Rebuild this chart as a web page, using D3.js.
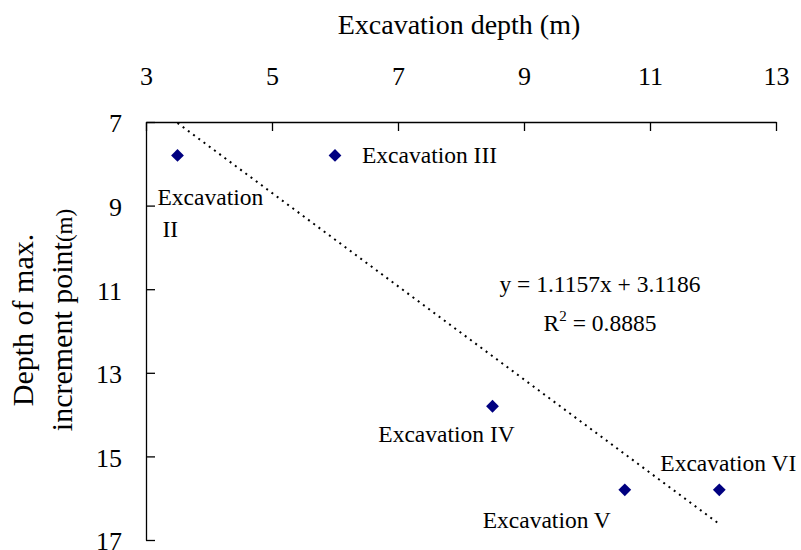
<!DOCTYPE html>
<html lang="en">
<head>
  <meta charset="UTF-8">
  <title>Excavation depth vs depth of max. increment point</title>
  <script src="https://d3js.org/d3.v7.min.js"></script>
  <style>
    body { margin: 0; background: white; }
    svg { display: block; font-family: "Liberation Serif", "Times New Roman", serif; }
    .axis path, .axis line { stroke: black; stroke-width: 1.3; }
    .axis text { font-size: 26px; fill: black; font-family: "Liberation Serif", serif; }
    .ptLabel { font-size: 23.5px; fill: black; }
    .trend { fill: none; stroke: black; stroke-width: 2; stroke-dasharray: 2,4.5; }
  </style>
</head>
<body>
<div id="chart"></div>
<script>
  // data
  const names = ["II", "III", "IV", "V", "VI"];
  const excavDepth = [3.5, 6.0, 8.5, 10.6, 12.1];
  const maxIncDepth = [7.8, 7.8, 13.8, 15.8, 15.8];
  const xTicks = [3, 5, 7, 9, 11, 13];
  const yTicks = [7, 9, 11, 13, 15, 17];

  // label placement (pixels, relative to the point)
  const labelLayout = {
    "II":  { lines: ["Excavation", "II"], dx: [-20, -15], dy: [50, 82], anchor: "start" },
    "III": { lines: ["Excavation III"], dx: [27], dy: [8], anchor: "start" },
    "IV":  { lines: ["Excavation IV"], dx: [-46], dy: [36], anchor: "middle" },
    "V":   { lines: ["Excavation V"], dx: [-78], dy: [38], anchor: "middle" },
    "VI":  { lines: ["Excavation VI"], dx: [9], dy: [-19], anchor: "middle" }
  };

  const width = 801, height = 550;
  const margin = { top: 122, left: 146, right: 25, bottom: 10 };

  const svg = d3.select("#chart").append("svg")
      .attr("width", width)
      .attr("height", height);

  const x = d3.scaleLinear().domain([3, 13]).range([margin.left, 776]);
  const y = d3.scaleLinear().domain([7, 17]).range([margin.top, 540]);

  // top x axis, ticks pointing inward
  svg.append("g")
      .attr("class", "axis")
      .attr("transform", `translate(0,${margin.top})`)
      .call(d3.axisTop(x).tickValues(xTicks).tickSize(-9).tickSizeOuter(0).tickPadding(37));

  // left y axis (depth grows downward)
  svg.append("g")
      .attr("class", "axis")
      .attr("transform", `translate(${margin.left},0)`)
      .call(d3.axisLeft(y).tickValues(yTicks).tickSize(-9).tickSizeOuter(0).tickPadding(24))
      .selectAll("text").attr("dy", "0.38em");

  // axis titles
  svg.append("text")
      .attr("x", 459).attr("y", 34)
      .attr("text-anchor", "middle")
      .style("font-size", "28px")
      .text("Excavation depth (m)");

  const yTitle = svg.append("g").attr("transform", "translate(0,320) rotate(-90)");
  yTitle.append("text")
      .attr("x", 0).attr("y", 33)
      .attr("text-anchor", "middle")
      .style("font-size", "30px")
      .text("Depth of max.");
  const t2 = yTitle.append("text")
      .attr("x", 0).attr("y", 72)
      .attr("text-anchor", "middle")
      .style("font-size", "30px");
  t2.append("tspan").text("increment point");
  t2.append("tspan").style("font-size", "23px").text("(m)");

  // linear trendline (least squares on the points)
  const n = excavDepth.length;
  const mx = d3.mean(excavDepth), my = d3.mean(maxIncDepth);
  const slope = d3.sum(excavDepth, (v, i) => (v - mx) * (maxIncDepth[i] - my)) /
                d3.sum(excavDepth, v => (v - mx) * (v - mx));
  const intercept = my - slope * mx;
  const xr = d3.extent(excavDepth);
  svg.append("path")
      .attr("class", "trend")
      .attr("d", d3.line()([[x(xr[0]), y(slope * xr[0] + intercept)],
                            [x(xr[1]), y(slope * xr[1] + intercept)]]));

  // points
  const pts = names.map((nm, i) => ({ name: nm, x: excavDepth[i], y: maxIncDepth[i] }));
  svg.selectAll(".pt")
    .data(pts)
    .enter()
    .append("path")
      .attr("class", "pt")
      .attr("d", d3.symbol(d3.symbolSquare, 82))
      .attr("transform", d => `translate(${x(d.x)},${y(d.y)}) rotate(45)`)
      .attr("fill", "#000080");

  // point labels
  pts.forEach(d => {
    const L = labelLayout[d.name];
    L.lines.forEach((s, k) => {
      svg.append("text")
          .attr("class", "ptLabel")
          .attr("x", x(d.x) + L.dx[k])
          .attr("y", y(d.y) + L.dy[k])
          .attr("text-anchor", L.anchor)
          .text(s);
    });
  });

  // equation
  const eq = svg.append("g").attr("class", "ptLabel");
  eq.append("text")
      .attr("x", 600).attr("y", 292)
      .attr("text-anchor", "middle")
      .style("font-size", "23.5px")
      .text("y = 1.1157x + 3.1186");
  const r2 = eq.append("text")
      .attr("x", 600).attr("y", 331)
      .attr("text-anchor", "middle")
      .style("font-size", "23.5px");
  r2.append("tspan").text("R");
  r2.append("tspan").attr("dy", -10).style("font-size", "15px").text("2");
  r2.append("tspan").attr("dy", 10).text(" = 0.8885");
</script>
</body>
</html>
